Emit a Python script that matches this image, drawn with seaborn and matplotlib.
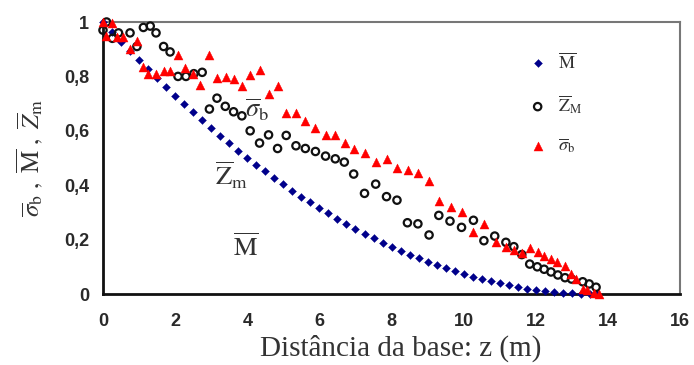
import numpy as np
import pandas as pd
import matplotlib
matplotlib.use("Agg")
import matplotlib.pyplot as plt
import seaborn as sns

# Bending moment ratio along the height
z_m = [0.00, 0.25, 0.50, 0.75, 1.00, 1.25, 1.50, 1.75, 2.00, 2.25, 2.50, 2.75,
       3.00, 3.25, 3.50, 3.75, 4.00, 4.25, 4.50, 4.75, 5.00, 5.25, 5.50, 5.75,
       6.00, 6.25, 6.50, 6.75, 7.00, 7.25, 7.50, 7.75, 8.00, 8.25, 8.50, 8.75,
       9.00, 9.25, 9.50, 9.75, 10.00, 10.25, 10.50, 10.75, 11.00, 11.25, 11.50,
       11.75, 12.00, 12.25, 12.50, 12.75, 13.00, 13.25, 13.50, 13.70]
m_vals = [1.000, 0.964, 0.928, 0.894, 0.859, 0.826, 0.793, 0.761, 0.729, 0.699,
          0.668, 0.639, 0.610, 0.582, 0.554, 0.527, 0.501, 0.476, 0.451, 0.427,
          0.403, 0.380, 0.358, 0.337, 0.316, 0.296, 0.276, 0.257, 0.239, 0.222,
          0.205, 0.189, 0.173, 0.158, 0.144, 0.131, 0.118, 0.106, 0.094, 0.083,
          0.073, 0.063, 0.055, 0.046, 0.039, 0.032, 0.026, 0.020, 0.015, 0.011,
          0.008, 0.005, 0.003, 0.001, 0.000, 0.000]

# Section modulus ratio
z_z = [0.00, 0.10, 0.26, 0.43, 0.75, 0.94, 1.12, 1.31, 1.47, 1.68, 1.86, 2.08,
       2.30, 2.52, 2.75, 2.95, 3.16, 3.39, 3.62, 3.85, 4.08, 4.34, 4.59, 4.84,
       5.08, 5.35, 5.61, 5.89, 6.17, 6.44, 6.69, 6.95, 7.25, 7.56, 7.86, 8.15,
       8.44, 8.73, 9.04, 9.31, 9.62, 9.94, 10.27, 10.56, 10.86, 11.17, 11.39,
       11.61, 11.83, 12.04, 12.23, 12.42, 12.61, 12.81, 12.99, 13.30, 13.48, 13.67]
z_vals = [0.970, 1.000, 0.940, 0.960, 0.960, 0.910, 0.980, 0.985, 0.960, 0.910,
          0.890, 0.800, 0.800, 0.810, 0.815, 0.680, 0.720, 0.690, 0.670, 0.655,
          0.600, 0.555, 0.585, 0.535, 0.583, 0.545, 0.535, 0.524, 0.507, 0.497,
          0.485, 0.441, 0.370, 0.404, 0.358, 0.345, 0.262, 0.258, 0.217, 0.289,
          0.268, 0.245, 0.271, 0.196, 0.213, 0.190, 0.174, 0.145, 0.110, 0.100,
          0.091, 0.081, 0.070, 0.060, 0.055, 0.045, 0.037, 0.025]

# Bending stress ratio
z_s = [0.00, 0.08, 0.24, 0.38, 0.56, 0.75, 0.94, 1.12, 1.26, 1.47, 1.68, 1.86,
       2.07, 2.28, 2.49, 2.69, 2.95, 3.16, 3.40, 3.62, 3.85, 4.08, 4.34, 4.59,
       4.84, 5.08, 5.34, 5.60, 5.88, 6.17, 6.44, 6.70, 6.97, 7.25, 7.56, 7.86,
       8.16, 8.45, 8.73, 9.04, 9.31, 9.64, 9.94, 10.27, 10.57, 10.89, 11.17,
       11.40, 11.63, 11.85, 12.05, 12.23, 12.42, 12.60, 12.81, 12.97, 13.10,
       13.30, 13.43, 13.62, 13.75]
s_vals = [1.000, 0.950, 0.995, 0.945, 0.944, 0.900, 0.930, 0.836, 0.809, 0.809,
          0.821, 0.821, 0.879, 0.830, 0.809, 0.768, 0.879, 0.795, 0.798, 0.789,
          0.766, 0.807, 0.822, 0.735, 0.765, 0.664, 0.664, 0.636, 0.609, 0.585,
          0.583, 0.555, 0.534, 0.520, 0.487, 0.495, 0.462, 0.456, 0.446, 0.416,
          0.342, 0.319, 0.302, 0.229, 0.257, 0.191, 0.174, 0.162, 0.152, 0.168,
          0.153, 0.138, 0.128, 0.119, 0.103, 0.075, 0.054, 0.017, 0.015, 0.003,
          0.000]

x_ticks = [0, 2, 4, 6, 8, 10, 12, 14, 16]
y_ticks = [0, 0.2, 0.4, 0.6, 0.8, 1.0]
y_tick_labels = ["0", "0,2", "0,4", "0,6", "0,8", "1"]

sns.set_style("white")
plt.rcParams["mathtext.fontset"] = "stix"
plt.rcParams["font.family"] = ["Liberation Sans", "DejaVu Sans"]

fig = plt.figure(figsize=(6.94, 3.65), dpi=100)
ax = fig.add_axes([0.1484, 0.1945, 0.8316, 0.7452])

df_m = pd.DataFrame({"z": z_m, "v": m_vals})
df_z = pd.DataFrame({"z": z_z, "v": z_vals})
df_s = pd.DataFrame({"z": z_s, "v": s_vals})

sns.scatterplot(data=df_m, x="z", y="v", ax=ax, marker="D", s=16,
                color="#00008B", edgecolor="#00008B", linewidth=0.3,
                label=r"$\overline{\mathrm{M}}$", zorder=3, clip_on=False)
sns.scatterplot(data=df_z, x="z", y="v", ax=ax, marker="o", s=28,
                facecolor="none", edgecolor="#111111", linewidth=1.6,
                label=r"$\overline{\mathrm{Z}}_{\mathrm{M}}$", zorder=4, clip_on=False)
sns.scatterplot(data=df_s, x="z", y="v", ax=ax, marker="^", s=42,
                color="#FF0000", edgecolor="#FF0000", linewidth=0.3,
                label=r"$\overline{\sigma}_{\mathrm{b}}$", zorder=5, clip_on=False)

ax.set_xlim(0, 16)
ax.set_ylim(0, 1)
ax.set_xticks(x_ticks)
ax.set_xticklabels([str(t) for t in x_ticks])
ax.set_yticks(y_ticks)
ax.set_yticklabels(y_tick_labels)
ax.tick_params(axis="both", direction="out", length=5, width=1.5,
               color="#111111", labelsize=13, labelcolor="#2a2a2a")
ax.tick_params(axis="x", pad=9)
ax.tick_params(axis="y", pad=5)
for lab in ax.get_xticklabels() + ax.get_yticklabels():
    lab.set_fontweight("bold")

for side in ("left", "bottom"):
    ax.spines[side].set_color("#111111")
    ax.spines[side].set_linewidth(2.0)
for side in ("top", "right"):
    ax.spines[side].set_color("#777777")
    ax.spines[side].set_linewidth(1.5)

ax.set_xlabel("Distância da base: z (m)", family="Liberation Serif",
              fontsize=21, color="#333333")
ax.xaxis.set_label_coords(0.515, -0.15)
ax.set_ylabel(r"$\overline{\sigma}_{\mathrm{b}}\ ,\ \overline{\mathrm{M}}\ ,\ \overline{Z}_{\mathrm{m}}$",
              fontsize=18, color="#333333")
ax.yaxis.set_label_coords(-0.10, 0.5)

# Curve labels inside the plot area
ax.text(3.95, 0.65, r"$\overline{\sigma}_{\mathrm{b}}$", fontsize=19, color="#333333")
ax.text(3.1, 0.40, r"$\overline{\mathrm{Z}}_{\mathrm{m}}$", fontsize=19, color="#333333")
ax.text(3.6, 0.14, r"$\overline{\mathrm{M}}$", fontsize=19, color="#333333")

leg = ax.legend(loc="upper left", bbox_to_anchor=(0.725, 0.915), frameon=False,
                fontsize=13, handletextpad=0.6, labelspacing=1.15,
                borderaxespad=0, handlelength=1.0)
for t in leg.get_texts():
    t.set_color("#333333")

fig.savefig("out.png", dpi=100)
